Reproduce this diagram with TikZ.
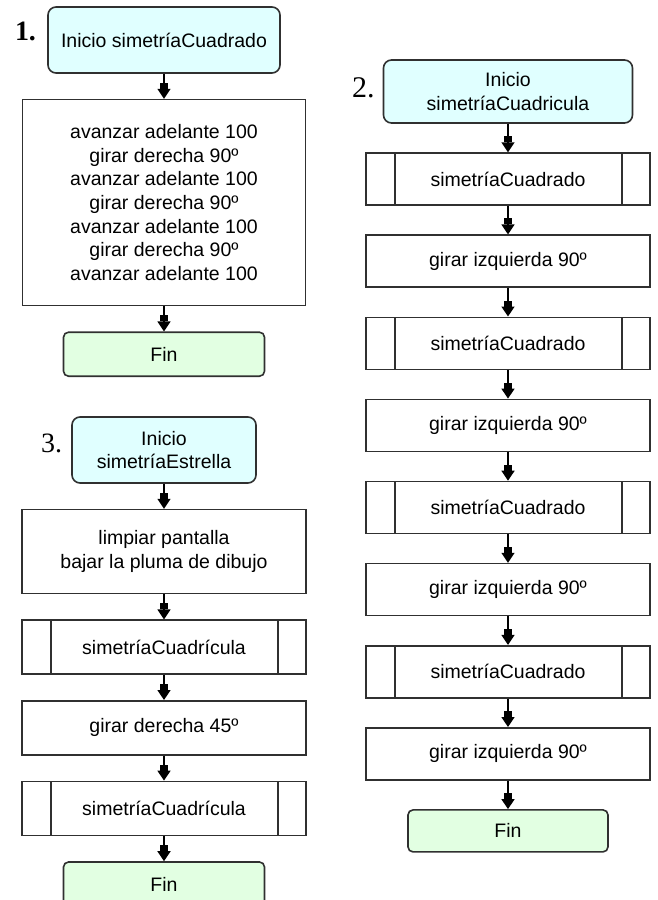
\documentclass[tikz,border=0pt]{standalone}
\usepackage{fontspec}
\setmainfont{Liberation Sans}
\newfontfamily\numfont{Liberation Serif}
\usetikzlibrary{arrows.meta,positioning}
\definecolor{Edge}{HTML}{303030}
\definecolor{StartFill}{HTML}{E0FFFF}
\definecolor{EndFill}{HTML}{E2FFE2}
\newcommand{\flowfont}{\fontsize{19.5}{23.6}\selectfont}
\tikzset{
  begin/.style={
    rounded corners=8pt, draw=Edge, line width=1.6pt, fill=StartFill,
    align=center, inner sep=0pt, font=\flowfont
  },
  finish/.style={
    rounded corners=5pt, draw=Edge, line width=1.6pt, fill=EndFill,
    minimum width=201pt, minimum height=44pt, inner sep=0pt, font=\flowfont
  },
  process/.style={
    draw=Edge, line width=1.6pt, fill=white, minimum width=284pt,
    minimum height=52pt, align=center, inner sep=0pt, font=\flowfont
  },
  subproc/.style={
    process,
    path picture={
      \draw[draw=Edge, line width=1.6pt]
        ([xshift=29pt]path picture bounding box.north west)
        -- ([xshift=29pt]path picture bounding box.south west);
      \draw[draw=Edge, line width=1.6pt]
        ([xshift=-28pt]path picture bounding box.north east)
        -- ([xshift=-28pt]path picture bounding box.south east);
    }
  },
  numlabel/.style={inner sep=0pt, font=\numfont\fontsize{28}{28}\selectfont},
  flow/.style={
    -{Rectangle[width=8pt,length=6pt]Triangle[width=13pt,length=10pt]},
    line width=1.6pt, draw=black
  }
}

\begin{document}
\begin{tikzpicture}[x=1pt, y=-1pt, node distance=25pt]
  \useasboundingbox (0,0) rectangle (658,900);

  % 1. simetriaCuadrado
  \node[begin, minimum width=232pt, minimum height=66pt] (start1) at (164,40)
    {Inicio simetríaCuadrado};
  \node[numlabel, font=\numfont\bfseries\fontsize{28}{28}\selectfont,
    left=11pt of start1, yshift=9pt] (num1) {1.};
  \node[process, minimum width=283pt, minimum height=206pt, below=of start1] (body1)
    {avanzar adelante 100\\girar derecha 90º\\avanzar adelante 100\\girar derecha 90º\\
     avanzar adelante 100\\girar derecha 90º\\avanzar adelante 100};
  \node[finish, below=of body1] (fin1) {Fin};
  \draw[flow] (start1) -- (body1);
  \draw[flow] (body1) -- (fin1);

  % 2. simetriaCuadricula
  \begin{scope}[node distance=28.5pt]
    \node[begin, minimum width=249pt, minimum height=63pt] (start2) at (508,91.5)
      {Inicio\\simetríaCuadricula};
    \node[numlabel, font=\numfont\fontsize{30}{30}\selectfont,
      left=8pt of start2, yshift=4pt] (num2) {2.};
    \node[subproc, below=of start2] (sq1) {simetríaCuadrado};
    \node[process, below=of sq1] (left1) {girar izquierda 90º};
    \node[subproc, below=of left1] (sq2) {simetríaCuadrado};
    \node[process, below=of sq2] (left2) {girar izquierda 90º};
    \node[subproc, below=of left2] (sq3) {simetríaCuadrado};
    \node[process, below=of sq3] (left3) {girar izquierda 90º};
    \node[subproc, below=of left3] (sq4) {simetríaCuadrado};
    \node[process, below=of sq4] (left4) {girar izquierda 90º};
    \node[finish, minimum width=200pt, minimum height=42pt, below=of left4] (fin2) {Fin};
  \end{scope}
  \draw[flow] (start2) -- (sq1);
  \draw[flow] (sq1) -- (left1);
  \draw[flow] (left1) -- (sq2);
  \draw[flow] (sq2) -- (left2);
  \draw[flow] (left2) -- (sq3);
  \draw[flow] (sq3) -- (left3);
  \draw[flow] (left3) -- (sq4);
  \draw[flow] (sq4) -- (left4);
  \draw[flow] (left4) -- (fin2);

  % 3. simetriaEstrella
  \node[begin, minimum width=184pt, minimum height=66pt] (start3) at (164,450)
    {Inicio\\simetríaEstrella};
  \node[numlabel, left=9pt of start3, yshift=7pt] (num3) {3.};
  \node[process, minimum height=84pt, below=of start3] (clear3)
    {limpiar pantalla\\bajar la pluma de dibujo};
  \node[subproc, minimum height=54pt, below=of clear3] (grid1) {simetríaCuadrícula};
  \node[process, minimum height=54pt, below=of grid1] (right3) {girar derecha 45º};
  \node[subproc, minimum height=54pt, below=of right3] (grid2) {simetríaCuadrícula};
  \node[finish, below=of grid2] (fin3) {Fin};
  \draw[flow] (start3) -- (clear3);
  \draw[flow] (clear3) -- (grid1);
  \draw[flow] (grid1) -- (right3);
  \draw[flow] (right3) -- (grid2);
  \draw[flow] (grid2) -- (fin3);
\end{tikzpicture}
\end{document}
